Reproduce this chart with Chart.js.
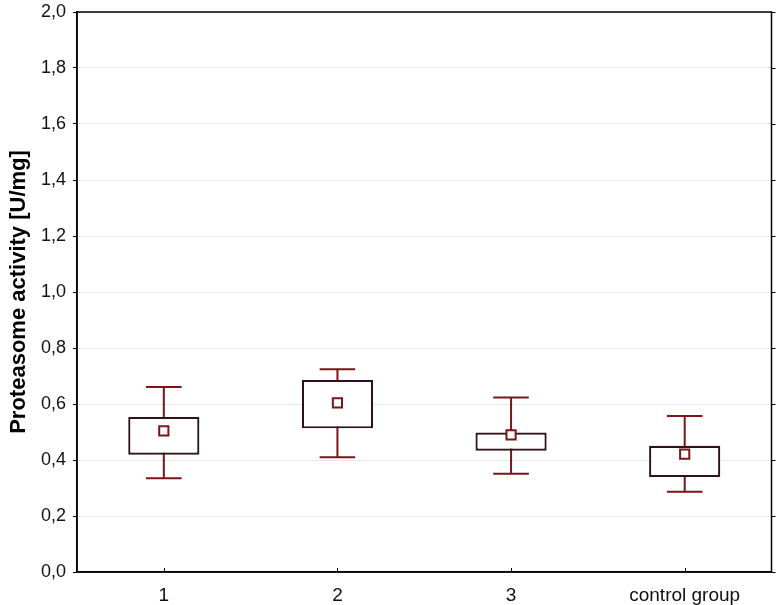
<!DOCTYPE html>
<html>
<head>
<meta charset="utf-8">
<script src="https://cdn.jsdelivr.net/npm/chart.js@4"></script>
<style>
  html, body { margin: 0; padding: 0; background: #fff; }
  #wrap { width: 780px; height: 605px; }
</style>
</head>
<body>
<div id="wrap"><canvas id="myChart"></canvas></div>
<script>
const categories = ['1', '2', '3', 'control group'];
const whiskerLow = [0.335, 0.410, 0.351, 0.287];
const boxLow = [0.419, 0.513, 0.433, 0.339];
const means = [0.504, 0.604, 0.490, 0.421];
const boxHigh = [0.554, 0.686, 0.498, 0.451];
const whiskerHigh = [0.661, 0.724, 0.623, 0.557];
const yMin = 0, yMax = 2, yStep = 0.2;

const whiskerColor = '#7a1518';
const boxColor = '#2e1119';

// whiskers go behind the boxes, frame and inner ticks on top
const boxPlotExtras = {
    id: 'boxPlotExtras',
    beforeDatasetsDraw(chart) {
        const ctx = chart.ctx;
        const x = chart.scales.x, y = chart.scales.y;
        const bars = chart.getDatasetMeta(0).data;
        ctx.save();
        ctx.strokeStyle = whiskerColor;
        ctx.lineWidth = 2;
        categories.forEach((c, i) => {
            const px = x.getPixelForValue(i);
            const cap = bars[i].width / 4;
            const top = y.getPixelForValue(whiskerHigh[i]);
            const bot = y.getPixelForValue(whiskerLow[i]);
            ctx.beginPath();
            ctx.moveTo(px, top); ctx.lineTo(px, bot);
            ctx.moveTo(px - cap, top); ctx.lineTo(px + cap, top);
            ctx.moveTo(px - cap, bot); ctx.lineTo(px + cap, bot);
            ctx.stroke();
        });
        ctx.restore();
    },
    afterDraw(chart) {
        const ctx = chart.ctx;
        const a = chart.chartArea;
        const x = chart.scales.x, y = chart.scales.y;
        ctx.save();
        ctx.strokeStyle = '#000';
        ctx.lineWidth = 1.5;
        ctx.strokeRect(a.left, a.top, a.right - a.left, a.bottom - a.top);
        ctx.lineWidth = 1;
        ctx.beginPath();
        categories.forEach((c, i) => {
            const px = Math.round(x.getPixelForValue(i)) + 0.5;
            ctx.moveTo(px, a.bottom); ctx.lineTo(px, a.bottom - 4);
        });
        y.ticks.forEach(t => {
            const py = Math.round(y.getPixelForValue(t.value)) + 0.5;
            ctx.moveTo(a.right, py); ctx.lineTo(a.right + 4, py);
        });
        ctx.stroke();
        ctx.restore();
    }
};

const ctx = document.getElementById('myChart').getContext('2d');

const config = {
    type: 'bar',
    data: {
        labels: categories,
        datasets: [{
            label: 'box',
            order: 2,
            data: boxLow.map((v, i) => [v, boxHigh[i]]),
            backgroundColor: '#fff',
            borderColor: boxColor,
            borderWidth: 2.2,
            borderSkipped: false,
            barPercentage: 0.41,
            categoryPercentage: 1
        }, {
            type: 'line',
            label: 'mean',
            order: 1,
            data: means,
            showLine: false,
            pointStyle: 'rect',
            pointRadius: 6.5,
            pointBorderWidth: 2,
            pointBorderColor: whiskerColor,
            pointBackgroundColor: '#fff'
        }]
    },
    options: {
        responsive: true,
        maintainAspectRatio: false,
        animation: false,
        layout: { padding: { top: 12, right: -4, left: 0, bottom: 0 } },
        plugins: {
            legend: { display: false },
            tooltip: { enabled: false }
        },
        scales: {
            x: {
                grid: { display: false, drawTicks: false },
                border: { display: true, color: '#000', width: 1.5 },
                ticks: {
                    color: '#111',
                    padding: 12,
                    font: { family: 'Liberation Sans, Arial, sans-serif', size: 19 }
                },
                afterFit(scale) {
                    scale.height = 33;
                    scale.paddingLeft = 0;
                    scale.paddingRight = 0;
                }
            },
            y: {
                min: yMin,
                max: yMax,
                grid: { color: '#e6e6e6', lineWidth: 1, tickColor: '#000', tickLength: 4 },
                border: { display: true, color: '#000', width: 1.5 },
                ticks: {
                    stepSize: yStep,
                    color: '#111',
                    padding: 7,
                    font: { family: 'Liberation Sans, Arial, sans-serif', size: 18 },
                    callback: v => v.toFixed(1).replace('.', ',')
                },
                title: {
                    display: true,
                    text: 'Proteasome activity [U/mg]',
                    color: '#000',
                    padding: { top: 6, bottom: 0 },
                    font: { family: 'Liberation Sans, Arial, sans-serif', size: 22, weight: 'bold' }
                },
                afterFit(scale) {
                    scale.width = 77;
                    scale.paddingTop = 0;
                    scale.paddingBottom = 0;
                }
            }
        }
    },
    plugins: [boxPlotExtras]
};

const myChart = new Chart(ctx, config);
</script>
</body>
</html>
